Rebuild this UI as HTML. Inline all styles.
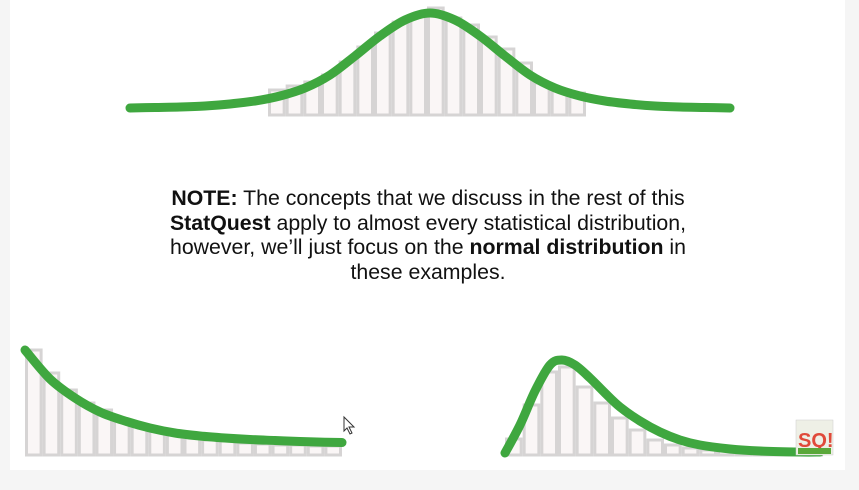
<!DOCTYPE html>
<html><head><meta charset="utf-8"><style>
html,body{margin:0;padding:0;background:#f5f5f5;}
#slide{position:absolute;left:10px;top:0;width:835px;height:470px;background:#fff;}
#note{position:absolute;left:0;top:186px;width:856px;text-align:center;font-family:"Liberation Sans",sans-serif;font-size:21.3px;line-height:24.6px;color:#111;}
svg{position:absolute;left:0;top:0;}
</style></head><body>
<div id="slide"></div>
<svg id="chart" width="859" height="490"></svg>
<div id="note"><b>NOTE:</b> The concepts that we discuss in the rest of this<br><b>StatQuest</b> apply to almost every statistical distribution,<br>however, we’ll just focus on the <b>normal distribution</b> in<br>these examples.</div>
<script>
// top normal histogram
const normBars=[25,29,33,40,53,68,82,93,100,107,97,90,78,66,52,32,25,22];
const normCurveX=[130,155,180,205,230,255,280,305,330,355,380,405,430,455,480,505,530,555,580,605,630,655,680,705,730];
const normCurveY=[0,0.5,1,2,4,7,12,20,33,52,72,88,95,88,72,52,33,20,12,7,4,2,1,0.5,0];
// bottom-left exponential
const expBars=[105,82,65,52,45,35,30,25,21,18,15,14,12,11,10,10,9,9];
const expCurveX=[25,50,75,100,125,150,175,200,225,250,275,300,325,342];
const expCurveY=[93,64,45,31,22,15,10,7,5,3.5,2.5,1.5,0.8,0.5];
// bottom-right skewed
const skewBars=[16,50,83,88,68,52,37,25,15,10,7,5,4,3,2,2,1,1];
const skewCurveX=[505,520,535,550,562,575,590,605,620,640,660,680,700,730,760,800,820];
const skewCurveY=[0,28,62,88,93,88,75,60,46,32,21,13,8,4,2,1,1];

const svg=document.getElementById('chart');
const NS='http://www.w3.org/2000/svg';
function panel(name,bars,cx,cy,x0,x1,base,curveBase,scale){
  const g=document.createElementNS(NS,'g');
  
  
  svg.appendChild(g);
  const bw=(x1-x0)/bars.length;
  bars.forEach((v,i)=>{
    const r=document.createElementNS(NS,'rect');
    
    
    r.setAttribute('x',x0+i*bw+1.5);r.setAttribute('y',base-v*scale);
    r.setAttribute('width',bw-3);r.setAttribute('height',v*scale);
    r.setAttribute('fill','#faf6f6');r.setAttribute('stroke','#d6d4d4');r.setAttribute('stroke-width','3');
    g.appendChild(r);
  });
  const pts=cx.map((x,i)=>[x,curveBase-cy[i]*scale]);
  let d='M'+pts[0][0]+','+pts[0][1];
  for(let i=0;i<pts.length-1;i++){
    const p0=pts[Math.max(0,i-1)],p1=pts[i],p2=pts[i+1],p3=pts[Math.min(pts.length-1,i+2)];
    d+=' C'+(p1[0]+(p2[0]-p0[0])/6)+','+(p1[1]+(p2[1]-p0[1])/6)+' '+(p2[0]-(p3[0]-p1[0])/6)+','+(p2[1]-(p3[1]-p1[1])/6)+' '+p2[0]+','+p2[1];
  }
  const c=document.createElementNS(NS,'path');
  
  
  c.setAttribute('d',d);c.setAttribute('fill','none');c.setAttribute('stroke','#3fa73f');
  c.setAttribute('stroke-width','9');c.setAttribute('stroke-linecap','round');
  g.appendChild(c);
}
panel('normal-distribution',normBars,normCurveX,normCurveY,268,586,115,108,1);
panel('exponential-distribution',expBars,expCurveX,expCurveY,25,342,455,443,1);
panel('skewed-distribution',skewBars,skewCurveX,skewCurveY,505,823,455,453,1);
</script>
<svg width="859" height="490" style="pointer-events:none">
  <path d="M344,417 L344,431 L347,428 L350,434 L352,433 L349,427 L354,427 Z" fill="#fff" stroke="#333" stroke-width="1"/>
  <g>
    <rect x="796" y="420" width="37" height="35" fill="#eef0e6" stroke="#ccc" stroke-width="0.5"/>
    <text x="798" y="447" font-family="Liberation Sans,sans-serif" font-weight="bold" font-size="20" fill="#e04a3a">SQ!</text>
    <rect x="798" y="448" width="33" height="6" fill="#5aa83a"/>
  </g>
</svg>
</body></html>
